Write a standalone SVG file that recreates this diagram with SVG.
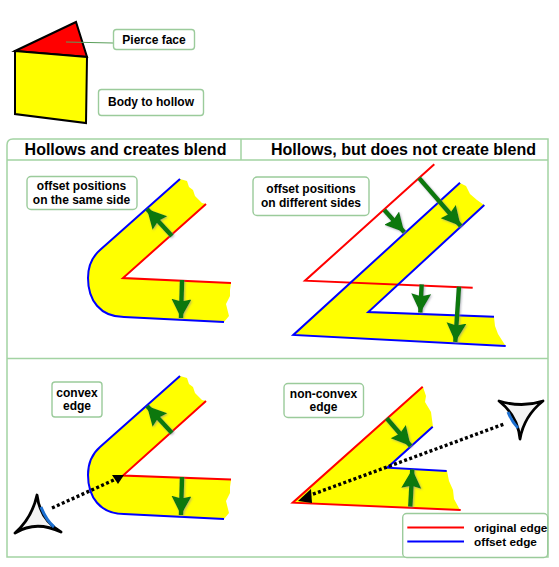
<svg xmlns="http://www.w3.org/2000/svg" width="559" height="567" viewBox="0 0 559 567">
<style>
text{font-family:"Liberation Sans",Arial,sans-serif;font-weight:bold;fill:#000;text-anchor:middle}
.l{font-size:12px}
.s{font-size:12px}
.h{font-size:16px}
.box{fill:#fff;stroke:#9bcb9b;stroke-width:1.4}
.grid{fill:none;stroke:#a3d3a3;stroke-width:1.5}
.y{fill:#ff0;stroke:none}
.r{fill:none;stroke:#f00;stroke-width:2}
.b{fill:none;stroke:#00f;stroke-width:2}
.g{fill:none;stroke:#0a780a;stroke-width:4.500;marker-end:url(#ga)}
.dot{fill:none;stroke:#000;stroke-width:3.400;stroke-dasharray:3 2.400}
.eye{fill:#f4f4f4;stroke:#000;stroke-width:2.800;stroke-linejoin:round}
</style>
<defs>
<marker id="ga" markerUnits="userSpaceOnUse" markerWidth="22" markerHeight="22" refX="19" refY="10" orient="auto"><path d="M0 0L19 10L0 20L2.500 10Z" fill="#0a780a"/></marker>
<filter id="sh" filterUnits="userSpaceOnUse" x="0" y="0" width="559" height="567"><feDropShadow dx="1" dy="1" stdDeviation="0.800" flood-color="#889" flood-opacity="0.600"/></filter>
</defs>

<g id="solid">
<path d="M15 51L76 22L87 57Z" fill="#f00" stroke="#000" stroke-width="2"/>
<path d="M15 51L87 57L86 123L15 114Z" fill="#ff0" stroke="#000" stroke-width="2"/>
</g>
<g id="table">
<path class="grid" d="M7 160V557H548V139H13Q7 139 7 145V160H548M241 139V160M7 358.500H548"/>
</g>
<g id="header-left"><text class="h" x="125.500" y="155">Hollows and creates blend</text></g>
<g id="header-right"><text class="h" x="403.500" y="155">Hollows, but does not create blend</text></g>

<g id="panel-same-side">
<path class="y" d="M180 179L187 181L189 187L193 190L195 196L202 203L206 204L123 278L231 283L230 290L230 296L226 304L229 316L224 322L124 317C100 317 88 300 88 278C88 266 92 257 100 250Z"/>
<path class="b" d="M180 179L100 250C92 257 88 266 88 278C88 300 100 317 124 317L224 322"/>
<path class="r" d="M206 204L123 278L231 283"/>
</g>
<g id="panel-different-sides">
<path class="y" d="M460 183L466 186L470 194L477 200L484 205L368 312L494 317L495 326L498 334L505 345L293 335Z"/>
<path class="r" d="M434.300 164.300L305 280.700L472.700 287.700"/>
<path class="b" d="M460 182.700L293.300 335L505.700 346"/>
<path class="b" d="M484.300 205L368.300 312L494 316.700"/>
</g>
<g id="panel-convex">
<path class="y" d="M180 376L187 378L189 384L193 387L195 393L202 400L206 401L123 475L231 480L230 487L230 493L226 501L229 513L224 519L124 514C100 514 88 497 88 475C88 463 92 454 100 447Z"/>
<path class="b" d="M180 376L100 447C92 454 88 463 88 475C88 497 100 514 124 514L224 519"/>
<path class="r" d="M206 401L123 475.500L231 479.500"/>
</g>
<g id="panel-non-convex">
<path class="y" d="M423 387L426 396L425 402L431 412L433 427L387 468L447 471L449 481L453 490L454 499L460 510L293 503Z"/>
<path class="r" d="M422.700 386.700L292.700 502.700L460.700 510"/>
<path class="b" d="M432.700 426.700L387.300 467.700L446.700 471"/>
</g>

<g id="connectors">
<path d="M66 42L113 43" fill="none" stroke="#5a9e5a" stroke-width="1.200"/>
<g filter="url(#sh)">
<path class="g" d="M172 236L147 209"/>
<path class="g" d="M182 280L181 318"/>
<path class="g" d="M419 178L460.700 226"/>
<path class="g" d="M384.300 210L404.300 232.300"/>
<path class="g" d="M421.700 284.300L420.300 312.700"/>
<path class="g" d="M459 286.700L455.300 342"/>
<path class="g" d="M172 433L147 406"/>
<path class="g" d="M182 477L181 515"/>
<path class="g" d="M386.700 418.300L410.700 446"/>
<path class="g" d="M410.300 506.700L412.300 469.300"/>
</g>
<path class="dot" d="M52 508L116 479"/>
<path d="M124 475L112 475L118 484Z" fill="#000"/>
<path class="dot" d="M503.300 424.300L308 496"/>
<path d="M298 501L311 489L312 503Z" fill="#000"/>
</g>

<g id="eye-left">
<path class="eye" d="M37 495Q40 520 61 532Q36 520 15 533Q32 518 37 495Z"/>
<path d="M41 507Q46 520 54 527" fill="none" stroke="#1c6fd0" stroke-width="3"/>
</g>
<g id="eye-right">
<path class="eye" d="M499 401Q522 408 543 401Q524 416 520 439Q518 416 499 401Z"/>
<path d="M508 412Q512 422 518 428" fill="none" stroke="#1c6fd0" stroke-width="3"/>
</g>

<g id="label-pierce"><rect class="box" x="113.500" y="29.500" width="81" height="20" rx="3"/><text class="l" x="154" y="43.500">Pierce face</text></g>
<g id="label-body"><rect class="box" x="98.500" y="89.500" width="105" height="26" rx="3"/><text class="l" x="151" y="106">Body to hollow</text></g>
<g id="label-same"><rect class="box" x="27" y="176.500" width="110" height="33" rx="4"/><text class="s" x="81.500" y="190">offset positions</text><text class="s" x="81.500" y="204">on the same side</text></g>
<g id="label-different"><rect class="box" x="253" y="177" width="116" height="38.500" rx="4"/><text class="s" x="311" y="193">offset positions</text><text class="s" x="311" y="207">on different sides</text></g>
<g id="label-convex"><rect class="box" x="52" y="382" width="50" height="35" rx="3"/><text class="s" x="77" y="397">convex</text><text class="s" x="77" y="410">edge</text></g>
<g id="label-nonconvex"><rect class="box" x="284" y="383.500" width="79.500" height="34" rx="4"/><text class="s" x="323.500" y="398">non-convex</text><text class="s" x="323.500" y="411">edge</text></g>
<g id="legend">
<rect class="box" x="402.700" y="513.500" width="145" height="44" rx="4"/>
<path class="r" d="M407.300 527.500H464"/>
<path class="b" d="M407.300 541.500H464"/>
<text class="s" x="474" y="531.500" style="text-anchor:start;font-size:11.800px">original edge</text>
<text class="s" x="474" y="545.500" style="text-anchor:start;font-size:11.800px">offset edge</text>
</g>
</svg>
